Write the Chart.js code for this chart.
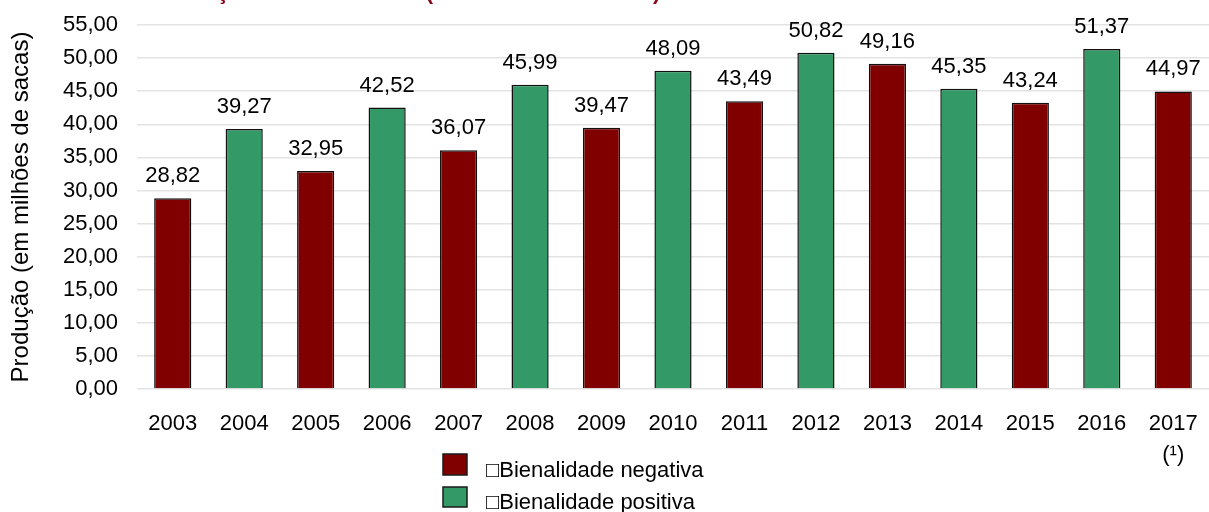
<!DOCTYPE html>
<html>
<head>
<meta charset="utf-8">
<script src="https://cdn.jsdelivr.net/npm/chart.js@4/dist/chart.umd.min.js"></script>
<style>
  html, body { margin: 0; padding: 0; background: #fff; }
  #wrap { position: relative; width: 1209px; height: 512px; }
</style>
</head>
<body>
<div id="wrap"><canvas id="chart"></canvas></div>
<script>
const years = ["2003", "2004", "2005", "2006", "2007", "2008", "2009", "2010",
  "2011", "2012", "2013", "2014", "2015", "2016", ["2017", "(\u00b9)"]];
const producao = [28.82, 39.27, 32.95, 42.52, 36.07, 45.99, 39.47, 48.09,
  43.49, 50.82, 49.16, 45.35, 43.24, 51.37, 44.97];
// "neg" = bienalidade negativa, "pos" = bienalidade positiva
const bienalidade = ["neg", "pos", "neg", "pos", "neg", "pos", "neg", "pos",
  "neg", "pos", "neg", "pos", "neg", "pos", "neg"];
const yTicks = [0, 5, 10, 15, 20, 25, 30, 35, 40, 45, 50, 55];
const legendLabels = { neg: "\u25A1Bienalidade negativa", pos: "\u25A1Bienalidade positiva" };
const titleText = "Produção de café arábica (em milhões de sacas)";

const colors = { neg: "#800000", pos: "#339966" };
const FONT = "'Liberation Sans', Arial, sans-serif";

const fmt = (v) => v.toFixed(2).replace(".", ",");

const labelsPlugin = {
  id: "extras",
  afterDatasetsDraw(chart) {
    const ctx = chart.ctx;
    const meta = chart.getDatasetMeta(0);
    ctx.save();
    ctx.font = "22px " + FONT;
    ctx.fillStyle = "#000";
    ctx.textAlign = "center";
    ctx.textBaseline = "alphabetic";
    meta.data.forEach((bar, i) => {
      ctx.fillText(fmt(producao[i]), bar.x, bar.y - 16);
    });
    ctx.restore();
  },
  afterDraw(chart) {
    const ctx = chart.ctx;
    const area = chart.chartArea;
    ctx.save();
    // title (cut off at the top in the reference)
    ctx.font = "bold 22px " + FONT;
    ctx.fillStyle = "#8b0a1a";
    ctx.textAlign = "left";
    ctx.textBaseline = "alphabetic";
    ctx.fillText(titleText, 153, -1);

    // legend, two rows
    const bx = 443;
    const rows = [["neg", area.bottom + 65, 21], ["pos", area.bottom + 98, 20]];
    ctx.font = "22px " + FONT;
    ctx.textBaseline = "middle";
    rows.forEach(([k, y, h]) => {
      ctx.fillStyle = colors[k];
      ctx.fillRect(bx, y, 24, h);
      ctx.strokeStyle = "#1a1a1a";
      ctx.lineWidth = 1.5;
      ctx.strokeRect(bx, y, 24, h);
      ctx.fillStyle = "#000";
      ctx.fillText(legendLabels[k], 486, y + h / 2 + 6);
    });
    ctx.restore();
  }
};

new Chart(document.getElementById("chart"), {
  type: "bar",
  data: {
    labels: years,
    datasets: [{
      data: producao,
      backgroundColor: bienalidade.map(b => colors[b]),
      borderColor: "#111",
      borderWidth: 1.5,
      barPercentage: 0.52,
      categoryPercentage: 1
    }]
  },
  options: {
    responsive: true,
    maintainAspectRatio: false,
    animation: false,
    layout: { padding: { top: 25, right: 0, left: 0, bottom: 0 } },
    plugins: {
      legend: { display: false },
      tooltip: { enabled: false },
      title: { display: false }
    },
    scales: {
      x: {
        grid: { display: false, drawTicks: false },
        border: { display: false },
        ticks: {
          color: "#000",
          font: { family: FONT, size: 22, lineHeight: 1.41 },
          padding: 19,
          maxRotation: 0,
          autoSkip: false
        },
        afterFit: (s) => {
          s.height = 123;
          s.paddingLeft = 0;
          s.paddingRight = 0;
        }
      },
      y: {
        min: 0,
        max: 55,
        afterBuildTicks: (s) => { s.ticks = yTicks.map(v => ({ value: v })); },
        grid: { color: "#e3e3e3", lineWidth: 1.5, drawTicks: false },
        border: { display: false },
        ticks: {
          color: "#000",
          font: { family: FONT, size: 22 },
          padding: 19,
          callback: (v) => fmt(v)
        },
        title: {
          display: true,
          text: "Produção (em milhões de sacas)",
          color: "#000",
          font: { family: FONT, size: 24 },
          padding: { top: 7, bottom: 0 }
        },
        afterFit: (s) => {
          s.width = 137;
          s.paddingTop = 0;
          s.paddingBottom = 0;
        }
      }
    }
  },
  plugins: [labelsPlugin]
});
</script>
</body>
</html>
